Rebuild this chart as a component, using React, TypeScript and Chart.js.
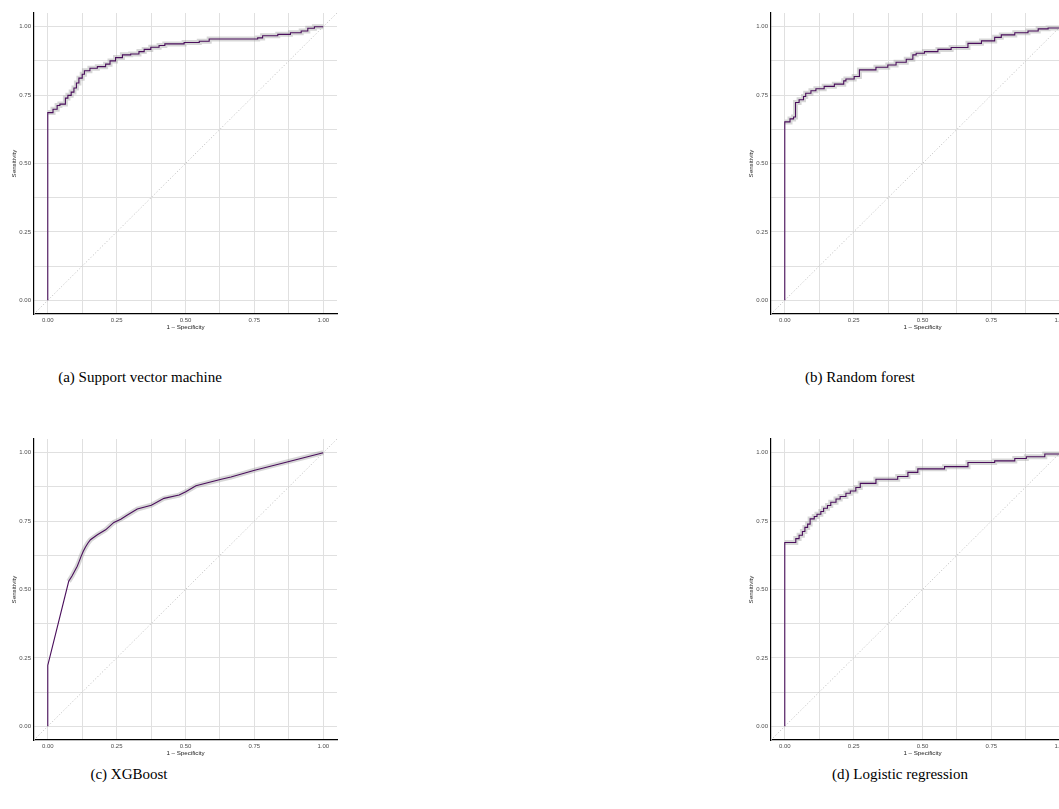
import React, { useEffect, useRef } from "react";
import { Chart, registerables } from "chart.js";

Chart.register(...registerables);

// ---------- data ----------
const AXIS_LABELLED = [0, 0.25, 0.5, 0.75, 1];
const AXIS_MINOR = [0.125, 0.375, 0.625, 0.875];

const SVM_FPR = [0, 0.019, 0.034, 0.044, 0.064, 0.073, 0.085, 0.095, 0.104, 0.113, 0.125, 0.133, 0.153, 0.18, 0.21, 0.226, 0.246, 0.271, 0.301, 0.331, 0.35, 0.374, 0.404, 0.425, 0.495, 0.55, 0.586, 0.762, 0.78, 0.835, 0.881, 0.92, 0.944, 0.968, 1.0];
const SVM_TPR = [0, 0.686, 0.698, 0.712, 0.717, 0.739, 0.749, 0.761, 0.776, 0.794, 0.812, 0.826, 0.839, 0.848, 0.854, 0.863, 0.875, 0.887, 0.897, 0.9, 0.909, 0.917, 0.925, 0.931, 0.937, 0.942, 0.947, 0.955, 0.959, 0.967, 0.972, 0.978, 0.984, 0.994, 1.0];

const RF_FPR = [0, 0.019, 0.032, 0.039, 0.052, 0.068, 0.076, 0.095, 0.113, 0.143, 0.18, 0.214, 0.222, 0.252, 0.271, 0.331, 0.374, 0.404, 0.441, 0.465, 0.477, 0.507, 0.556, 0.604, 0.665, 0.714, 0.762, 0.786, 0.835, 0.883, 0.92, 0.956, 1.0, 1.0];
const RF_TPR = [0, 0.652, 0.663, 0.67, 0.723, 0.733, 0.745, 0.757, 0.766, 0.773, 0.782, 0.79, 0.802, 0.809, 0.818, 0.842, 0.852, 0.86, 0.87, 0.881, 0.897, 0.903, 0.909, 0.917, 0.924, 0.939, 0.948, 0.961, 0.97, 0.978, 0.984, 0.992, 0.995, 1.0];

const XGB_FPR = [0, 0, 0.076, 0.088, 0.107, 0.113, 0.121, 0.129, 0.137, 0.146, 0.155, 0.18, 0.21, 0.24, 0.265, 0.289, 0.325, 0.376, 0.422, 0.477, 0.501, 0.538, 0.626, 0.665, 0.751, 0.876, 1.0];
const XGB_TPR = [0, 0.223, 0.53, 0.549, 0.585, 0.6, 0.621, 0.64, 0.655, 0.67, 0.682, 0.7, 0.718, 0.745, 0.757, 0.772, 0.794, 0.808, 0.833, 0.845, 0.857, 0.879, 0.902, 0.911, 0.936, 0.968, 1.0];

const LR_FPR = [0, 0.04, 0.052, 0.064, 0.073, 0.083, 0.092, 0.107, 0.117, 0.131, 0.141, 0.155, 0.167, 0.186, 0.201, 0.222, 0.238, 0.258, 0.274, 0.331, 0.41, 0.447, 0.483, 0.58, 0.665, 0.762, 0.835, 0.877, 0.944, 1.0, 1.0];
const LR_TPR = [0, 0.672, 0.686, 0.698, 0.712, 0.727, 0.739, 0.758, 0.767, 0.775, 0.785, 0.797, 0.807, 0.819, 0.831, 0.84, 0.852, 0.86, 0.873, 0.888, 0.903, 0.913, 0.928, 0.941, 0.949, 0.964, 0.97, 0.979, 0.985, 0.995, 1.0];

const DIAG = [-0.05, 1.05];

const CAPTIONS = ["(a) Support vector machine", "(b) Random forest", "(c) XGBoost", "(d) Logistic regression"];

// ---------- styling ----------
const FONT = '"Liberation Sans", Arial, Helvetica, sans-serif';
const CANVAS_W = 345;
const CANVAS_H = 340;

type Panel = {
  fpr: number[];
  tpr: number[];
  stepped: false | "after";
  bandFrom: number;
  left: number;
  top: number;
};

const PANELS: Panel[] = [
  { fpr: SVM_FPR, tpr: SVM_TPR, stepped: "after", bandFrom: 1, left: 0, top: 0 },
  { fpr: RF_FPR, tpr: RF_TPR, stepped: "after", bandFrom: 1, left: 737, top: 0 },
  { fpr: XGB_FPR, tpr: XGB_TPR, stepped: false, bandFrom: 2, left: 0, top: 426 },
  { fpr: LR_FPR, tpr: LR_TPR, stepped: "after", bandFrom: 1, left: 737, top: 426 },
];

// caption centre x and top y
const CAPTION_POS = [
  { cx: 140, top: 369 },
  { cx: 860, top: 369 },
  { cx: 129, top: 766 },
  { cx: 900, top: 766 },
];

function buildConfig(p: Panel): any {
  const pts = p.fpr.map((x, i) => ({ x, y: p.tpr[i] }));
  let band: { x: number; y: number }[];
  if (p.stepped) {
    band = [{ x: p.fpr[0], y: p.tpr[1] }, ...pts.slice(1)];
  } else {
    band = pts.slice(p.bandFrom);
  }
  const diag = DIAG.map((v) => ({ x: v, y: v }));
  const gridTicks = [...AXIS_LABELLED, ...AXIS_MINOR].sort((a, b) => a - b);
  const tickLabel = (v: number) => (AXIS_LABELLED.some((a) => Math.abs(a - v) < 1e-9) ? Number(v).toFixed(2) : "");

  const common = (titleText: string, isX: boolean) => ({
    type: "linear",
    min: DIAG[0],
    max: DIAG[1],
    afterBuildTicks: (s: any) => {
      s.ticks = gridTicks.map((v) => ({ value: v }));
    },
    afterFit: (s: any) => {
      if (isX) s.height = 26;
      else s.width = 34;
    },
    ticks: {
      autoSkip: false,
      maxRotation: 0,
      padding: 3,
      color: "#4d4d4d",
      font: { family: FONT, size: 6 },
      callback: (v: number) => tickLabel(v),
    },
    grid: {
      color: "#e0e0e0",
      lineWidth: 1,
      drawTicks: false,
    },
    border: { display: true, color: "#000000", width: 1.2 },
    title: {
      display: true,
      text: titleText,
      color: "#1a1a1a",
      font: { family: FONT, size: 6.2 },
      padding: isX ? { top: 0, bottom: 8.7 } : { top: 10.4, bottom: 0 },
    },
  });

  return {
    type: "line",
    data: {
      datasets: [
        {
          data: pts,
          borderColor: "#4a0f5c",
          borderWidth: 1.1,
          stepped: p.stepped,
          pointRadius: 0,
          fill: false,
          tension: 0,
        },
        {
          data: band,
          borderColor: "rgba(150,150,150,0.38)",
          borderWidth: 5,
          stepped: p.stepped,
          pointRadius: 0,
          fill: false,
          tension: 0,
          borderJoinStyle: "miter",
        },
        {
          data: diag,
          borderColor: "#c4c4c4",
          borderWidth: 1,
          borderDash: [1.2, 2],
          pointRadius: 0,
          fill: false,
        },
      ],
    },
    options: {
      animation: false,
      responsive: false,
      maintainAspectRatio: false,
      devicePixelRatio: 1,
      events: [],
      layout: { padding: { top: 13, right: 8, left: 0, bottom: 0 } },
      plugins: { legend: { display: false }, tooltip: { enabled: false } },
      scales: {
        x: common("1 \u2013 Specificity", true),
        y: common("Sensitivity", false),
      },
    },
  };
}

function RocPanel({ panel }: { panel: Panel }) {
  const ref = useRef<HTMLCanvasElement | null>(null);
  useEffect(() => {
    if (!ref.current) return;
    const chart = new Chart(ref.current, buildConfig(panel));
    return () => chart.destroy();
  }, [panel]);
  return (
    <canvas
      ref={ref}
      width={CANVAS_W}
      height={CANVAS_H}
      style={{
        position: "absolute",
        left: panel.left,
        top: panel.top,
        width: CANVAS_W,
        height: CANVAS_H,
      }}
    />
  );
}

export default function App() {
  return (
    <div
      style={{
        position: "fixed",
        left: 0,
        top: 0,
        width: 1059,
        height: 809,
        overflow: "hidden",
        background: "#ffffff",
      }}
    >
      {PANELS.map((p, i) => (
        <RocPanel key={i} panel={p} />
      ))}
      {CAPTIONS.map((c, i) => (
        <div
          key={"c" + i}
          style={{
            position: "absolute",
            left: CAPTION_POS[i].cx - 150,
            width: 300,
            textAlign: "center",
            top: CAPTION_POS[i].top,
            fontFamily: '"Liberation Serif", "Times New Roman", serif',
            fontSize: 15,
            lineHeight: "16px",
            color: "#000",
            whiteSpace: "nowrap",
          }}
        >
          {c}
        </div>
      ))}
    </div>
  );
}
